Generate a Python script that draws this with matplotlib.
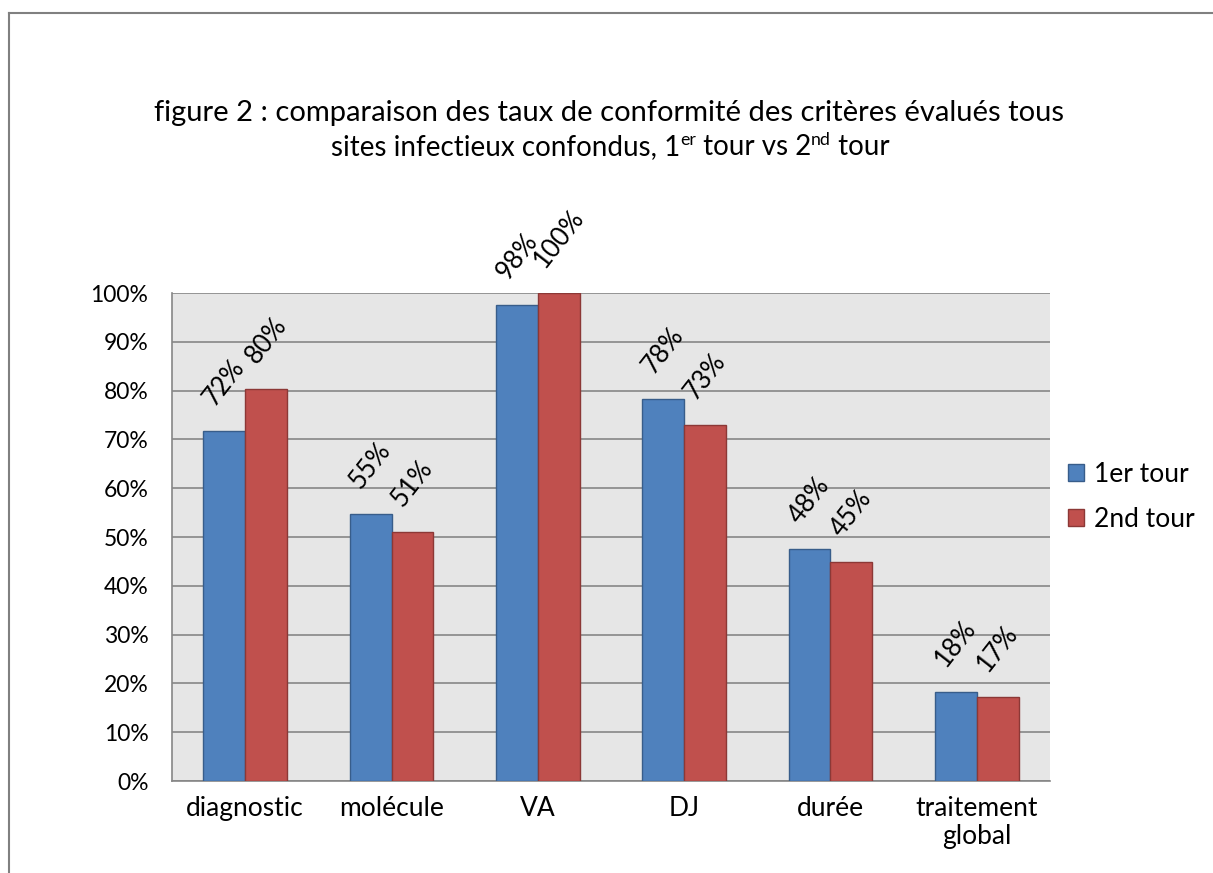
import matplotlib
matplotlib.use("Agg")
import matplotlib.pyplot as plt
import numpy as np
from matplotlib.patches import Rectangle
from matplotlib.lines import Line2D

plt.rcParams['font.family'] = ['Lato', 'DejaVu Sans']

categories = ["diagnostic", "molécule", "VA", "DJ", "durée", "traitement\nglobal"]
tour1 = [71.8, 54.8, 97.5, 78.3, 47.5, 18.2]
tour2 = [80.3, 51.0, 100.0, 73.0, 44.9, 17.3]
labels1 = ["72%", "55%", "98%", "78%", "48%", "18%"]
labels2 = ["80%", "51%", "100%", "73%", "45%", "17%"]
series_names = ["1er tour", "2nd tour"]
yticks = list(range(0, 101, 10))
title1 = "figure 2 : comparaison des taux de conformité des critères évalués tous"
title2_parts = [("sites infectieux confondus, 1", False), ("er", True), (" tour vs 2", False),
                ("nd", True), (" tour", False)]

W, H = 1213, 873
fig = plt.figure(figsize=(W/100, H/100), dpi=100)
ax = fig.add_axes([172/W, 1-781/H, (1050-172)/W, (781-293)/H])

c1, e1 = "#4F81BD", "#385D8A"
c2, e2 = "#C0504D", "#8C3836"
x = np.arange(len(categories))
bw = 0.287
ax.set_facecolor("#E6E6E6")
b1 = ax.bar(x - bw/2, tour1, bw, color=c1, edgecolor=e1, linewidth=1, zorder=3)
b2 = ax.bar(x + bw/2, tour2, bw, color=c2, edgecolor=e2, linewidth=1, zorder=3)

ax.set_xlim(-0.5, len(categories) - 0.5)
ax.set_ylim(0, 100)
ax.set_yticks(yticks)
ax.set_yticklabels([f"{t}%" for t in yticks], fontsize=16.5)
ax.set_xticks(x)
ax.set_xticklabels(categories, fontsize=19, linespacing=1.15)
ax.tick_params(axis='y', length=0, pad=17)
ax.tick_params(axis='x', length=0, pad=11)
ax.yaxis.grid(True, color="#868686", linewidth=1.2, zorder=1)
ax.set_axisbelow(True)
for s in ["top", "right"]:
    ax.spines[s].set_visible(False)
ax.spines["left"].set_color("#868686")
ax.spines["bottom"].set_color("#868686")
ax.spines["left"].set_linewidth(1.2)
ax.spines["bottom"].set_linewidth(1.2)

for bars, labs in ((b1, labels1), (b2, labels2)):
    for b, lab in zip(bars, labs):
        ax.annotate(lab, (b.get_x() + b.get_width()/2, b.get_height()),
                    xytext=(0, 15), textcoords="offset points",
                    rotation=52, ha="center", va="bottom",
                    fontsize=18.5, annotation_clip=False)

tfs = 21
fig.text(609/W, 1-113/H, title1, ha="center", va="center", fontsize=tfs)

# second title line with superscripts, composed piece by piece
tfs2 = 20
renderer = fig.canvas.get_renderer()
pieces = []
total = 0
for s, sup in title2_parts:
    t = fig.text(0, 0, s, fontsize=tfs2 * (0.64 if sup else 1.0), ha="left", va="baseline")
    w = t.get_window_extent(renderer=renderer).width
    pieces.append((t, sup, w))
    total += w
xpix = 610 - total / 2
base = H - 155
for t, sup, w in pieces:
    t.set_position((xpix / W, (base + (10 if sup else 0)) / H))
    xpix += w

handles = [Rectangle((0, 0), 1, 1, facecolor=c1, edgecolor=e1),
           Rectangle((0, 0), 1, 1, facecolor=c2, edgecolor=e2)]
fig.legend(handles, series_names, loc="center left", bbox_to_anchor=(1068/W, 1-497/H),
           frameon=False, fontsize=19, handlelength=0.6, handleheight=0.6,
           handletextpad=0.4, labelspacing=0.75, borderaxespad=0, borderpad=0)

# outer border (top and left)
fig.add_artist(Line2D([9/W, 1], [1-13/H, 1-13/H], color="#808080", linewidth=1.5))
fig.add_artist(Line2D([9/W, 9/W], [0, 1-13/H], color="#808080", linewidth=1.5))

fig.savefig("out.png", dpi=100)
